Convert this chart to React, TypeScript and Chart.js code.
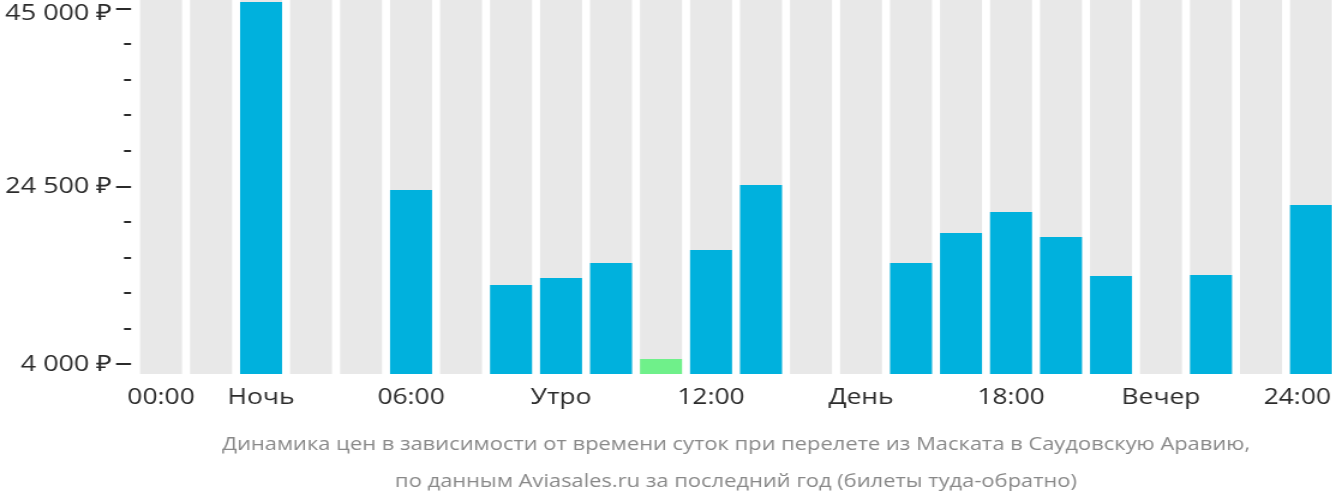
import React, { useEffect, useRef } from 'react';
import { Chart, registerables } from 'chart.js';

Chart.register(...registerables);

// horizontal stretch of the rendered picture (text in the reference is wide)
const STRETCH = 1.2;
const CSS_W = 1336;
const CSS_H = 502;

const hourLabels = [
  '00:00', '', 'Ночь', '', '', '06:00', '', '', 'Утро', '', '', '12:00',
  '', '', 'День', '', '', '18:00', '', '', 'Вечер', '', '', '24:00    ',
];
const prices: (number | null)[] = [
  null, null, 45770, null, null, 24104, null, 13157, 13963, 15692, 4629, 17190,
  24681, null, null, 15692, 19149, 21569, 18688, 14194, null, 14309, null, 22376,
];
const cheapestHour = 10;
const yTickValues = [4000, 8100, 12200, 16300, 20400, 24500, 28600, 32700, 36800, 40900, 45000];
const yTickLabels: Record<number, string | string[]> = {
  4000: '4 000 ₽',
  24500: '24 500 ₽',
  45000: ['', '45 000 ₽'],
};
const yMin = 2900;
const yMax = 46000;
const titleLines = [
  'Динамика цен в зависимости от времени суток при перелете из Маската в Саудовскую Аравию,',
  'по данным Aviasales.ru за последний год (билеты туда-обратно)',
];

const BLUE = '#00b1dd';
const GREEN = '#6ff08a';
const GREY = '#e8e8e8';
const TEXT = '#2b2b2b';
const TITLE = '#888888';

const tickMarks = {
  id: 'tickMarks',
  afterDraw(chart: any) {
    const ys = chart.scales.y;
    const ctx = chart.ctx;
    const right = chart.chartArea.left - 5 / STRETCH;
    ctx.save();
    ctx.fillStyle = TEXT;
    yTickValues.forEach((v) => {
      const py = ys.getPixelForValue(v);
      const len = yTickLabels[v] ? 15 : 7;
      ctx.fillRect(right - len / STRETCH, Math.round(py) - 1, len / STRETCH, 2);
    });
    ctx.restore();
  },
};

export default function App() {
  const ref = useRef<HTMLCanvasElement | null>(null);

  useEffect(() => {
    if (!ref.current) return;
    const chart = new Chart(ref.current, {
      type: 'bar',
      data: {
        labels: hourLabels,
        datasets: [
          {
            label: 'price',
            data: prices as any,
            backgroundColor: prices.map((_, i) => (i === cheapestHour ? GREEN : BLUE)),
            order: 0,
            grouped: false,
            barPercentage: 0.84,
            categoryPercentage: 1,
          },
          {
            label: 'bg',
            data: hourLabels.map(() => yMax),
            backgroundColor: GREY,
            order: 1,
            grouped: false,
            barPercentage: 0.84,
            categoryPercentage: 1,
          },
        ],
      },
      options: {
        animation: false,
        responsive: false,
        maintainAspectRatio: false,
        layout: { padding: 0 },
        plugins: {
          legend: { display: false },
          tooltip: { enabled: false },
          title: {
            display: true,
            position: 'bottom',
            fullSize: false,
            text: titleLines,
            color: TITLE,
            font: { family: 'Open Sans', size: 18.25, weight: 'normal', lineHeight: '37px' as any },
            padding: { top: 0, bottom: 1.5 },
          },
        },
        scales: {
          x: {
            type: 'category',
            offset: true,
            grid: { display: false, drawTicks: false },
            border: { display: false },
            ticks: {
              autoSkip: false,
              maxRotation: 0,
              minRotation: 0,
              color: TEXT,
              font: { family: 'Open Sans', size: 22 },
              padding: 10.5,
            },
            afterFit: (s: any) => {
              s.height = 52.5;
              s.paddingLeft = 0;
              s.paddingRight = 0;
            },
          },
          y: {
            type: 'linear',
            min: yMin,
            max: yMax,
            grid: { display: false, drawTicks: false },
            border: { display: false },
            afterBuildTicks: (s: any) => {
              s.ticks = yTickValues.map((v) => ({ value: v }));
            },
            ticks: {
              autoSkip: false,
              color: TEXT,
              font: { family: 'Open Sans', size: 22.5, lineHeight: '10px' as any },
              padding: 24 / STRETCH,
              callback: (v: any) => yTickLabels[Number(v)] ?? '',
            },
            afterFit: (s: any) => {
              s.width = 136 / STRETCH;
              s.paddingTop = 0;
              s.paddingBottom = 0;
            },
          },
        },
      },
      plugins: [tickMarks],
    });
    return () => chart.destroy();
  }, []);

  return (
    <div
      style={{
        position: 'fixed',
        left: 0,
        top: 0,
        width: 1332,
        height: CSS_H,
        overflow: 'hidden',
        background: '#fff',
      }}
    >
      <canvas
        ref={ref}
        width={Math.round(CSS_W / STRETCH)}
        height={CSS_H}
        style={{ width: CSS_W + 'px', height: CSS_H + 'px', display: 'block' }}
      />
    </div>
  );
}
